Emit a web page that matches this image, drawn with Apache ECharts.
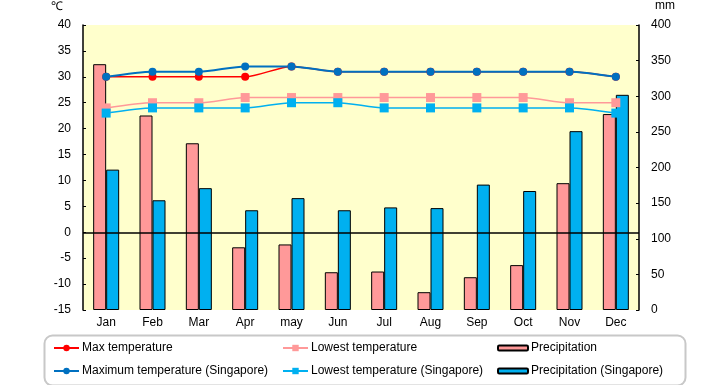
<!DOCTYPE html>
<html>
<head>
<meta charset="utf-8">
<script src="https://cdn.jsdelivr.net/npm/echarts@6/dist/echarts.min.js"></script>
<style>html,body{margin:0;padding:0;background:#fff;}#c{width:720px;height:385px;}</style>
</head>
<body>
<div id="c"></div>
<script>
var months = ['Jan','Feb','Mar','Apr','may','Jun','Jul','Aug','Sep','Oct','Nov','Dec'];
var tempTicks = [-15,-10,-5,0,5,10,15,20,25,30,35,40];
var mmTicks = [0,50,100,150,200,250,300,350,400];
var maxTemp = [30,30,30,30,32,31,31,31,31,31,31,30];
var lowTemp = [24,25,25,26,26,26,26,26,26,26,25,25];
var precip = [345,273,234,88,92,53,54,25,46,63,178,275];
var maxTempSG = [30,31,31,32,32,31,31,31,31,31,31,30];
var lowTempSG = [23,24,24,24,25,25,24,24,24,24,24,23];
var precipSG = [197,154,171,140,157,140,144,143,176,167,251,302];

var FONT = 'Liberation Sans';
var chart = echarts.init(document.getElementById('c'));
function lg(name, left, top, w, h) {
  return {
    data: [name], left: left, top: top, padding: 0, itemWidth: w, itemHeight: h,
    itemGap: 0, textStyle: {fontFamily: FONT, fontSize: 12, color: '#000', padding: [0,0,0,-2]},
    selectedMode: false
  };
}
chart.setOption({
  animation: false,
  textStyle: {fontFamily: FONT},
  grid: {left: 83, right: 81, top: 25, bottom: 75, show: true, backgroundColor: '#FFFFCC', borderWidth: 0},
  graphic: [
    {type: 'text', left: 51, top: 1, style: {text: '℃', font: '12px ' + FONT, fill: '#000'}},
    {type: 'text', left: 655, top: 0, style: {text: 'mm', font: '12px ' + FONT, fill: '#000'}},
    {type: 'rect', left: 42, top: 333, shape: {width: 641, height: 50, r: 8}, style: {fill: 'none', stroke: '#c8c8c8', lineWidth: 2}, z: -1}
  ],
  legend: [
    lg('Max temperature', 53, 342, 25, 8),
    lg('Maximum temperature (Singapore)', 53, 365, 25, 8),
    lg('Lowest temperature', 282, 342, 25, 8),
    lg('Lowest temperature (Singapore)', 282, 365, 25, 8),
    lg('Precipitation', 497, 342, 30, 5),
    lg('Precipitation (Singapore)', 497, 365, 30, 5)
  ],
  xAxis: {
    type: 'category', data: months,
    axisLine: {show: false}, axisTick: {show: false},
    axisLabel: {color: '#000', fontSize: 12, margin: 7, fontFamily: FONT}
  },
  yAxis: [
    {
      type: 'value', min: tempTicks[0], max: tempTicks[tempTicks.length-1], interval: 5,
      axisLine: {show: true, lineStyle: {color: '#000', width: 1.5}},
      axisTick: {show: true, inside: true, length: 3, lineStyle: {color: '#000'}},
      splitLine: {show: false},
      axisLabel: {color: '#000', fontSize: 12, margin: 12, fontFamily: FONT}
    },
    {
      type: 'value', min: mmTicks[0], max: mmTicks[mmTicks.length-1], interval: 50, position: 'right',
      axisLine: {show: true, lineStyle: {color: '#000', width: 1.5}},
      axisTick: {show: true, inside: true, length: 3, lineStyle: {color: '#000'}},
      splitLine: {show: false},
      axisLabel: {color: '#000', fontSize: 12, margin: 12, fontFamily: FONT}
    }
  ],
  series: [
    {name: 'Precipitation', type: 'bar', yAxisIndex: 1, data: precip, barWidth: 13, barGap: '0%',
     itemStyle: {color: '#FF9999', borderColor: '#000', borderWidth: 1}},
    {name: 'Precipitation (Singapore)', type: 'bar', yAxisIndex: 1, data: precipSG, barWidth: 13, barGap: '0%',
     itemStyle: {color: '#00B0F0', borderColor: '#000', borderWidth: 1}},
    {name: 'Max temperature', type: 'line', yAxisIndex: 0, data: maxTemp, smooth: 0.25,
     symbol: 'circle', symbolSize: 8, itemStyle: {color: '#FF0000'}, lineStyle: {color: '#FF0000', width: 1.5},
     markLine: {silent: true, symbol: ['none','none'], label: {show: false},
       lineStyle: {color: '#000', type: 'solid', width: 1.5}, data: [{yAxis: 0}]}},
    {name: 'Lowest temperature', type: 'line', yAxisIndex: 0, data: lowTemp, smooth: 0.25,
     symbol: 'rect', symbolSize: 9, itemStyle: {color: '#FF9999'}, lineStyle: {color: '#FF9999', width: 1.5}},
    {name: 'Maximum temperature (Singapore)', type: 'line', yAxisIndex: 0, data: maxTempSG, smooth: 0.25,
     symbol: 'circle', symbolSize: 8, itemStyle: {color: '#0070C0'}, lineStyle: {color: '#0070C0', width: 2}},
    {name: 'Lowest temperature (Singapore)', type: 'line', yAxisIndex: 0, data: lowTempSG, smooth: 0.25,
     symbol: 'rect', symbolSize: 9, itemStyle: {color: '#00B0F0'}, lineStyle: {color: '#00B0F0', width: 1.5}}
  ]
});
</script>
</body>
</html>
